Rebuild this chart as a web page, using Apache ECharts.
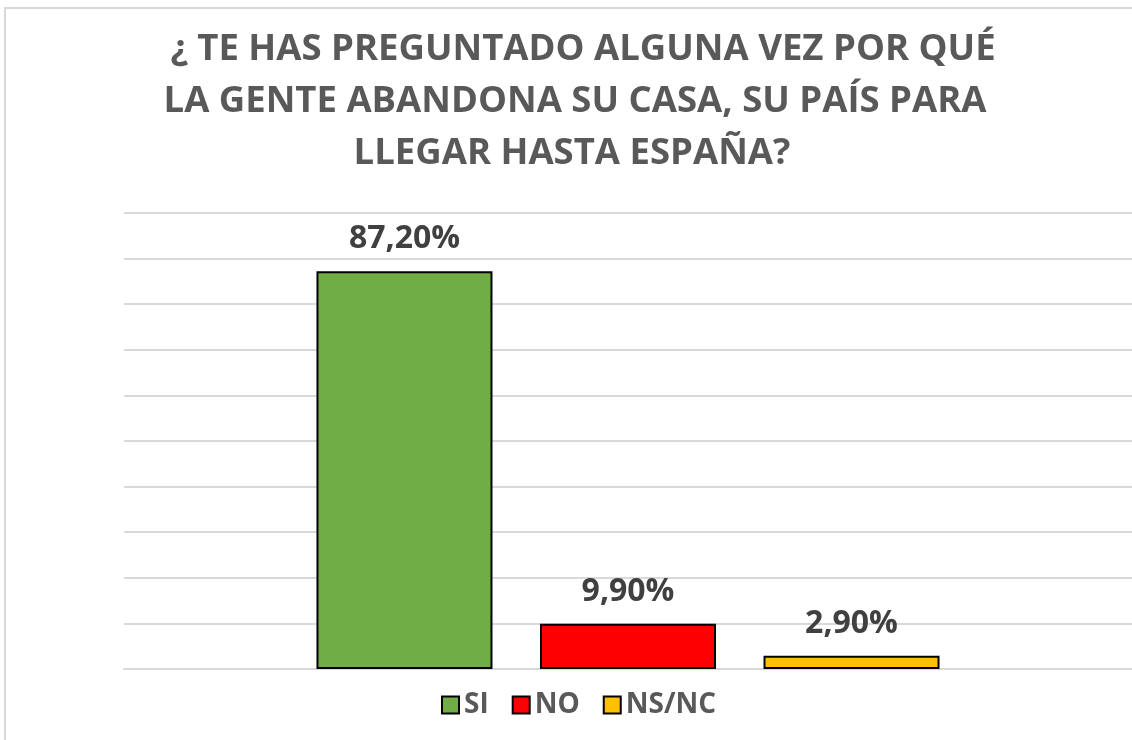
<!DOCTYPE html>
<html>
<head>
<meta charset="utf-8">
<script src="https://cdn.jsdelivr.net/npm/echarts@6/dist/echarts.min.js"></script>
<style>
  html, body { margin: 0; padding: 0; background: #fff; }
  #chart { width: 1132px; height: 740px; }
</style>
</head>
<body>
<div id="chart"></div>
<script>
var titleLines = [
    '¿ TE HAS PREGUNTADO ALGUNA VEZ POR QUÉ',
    'LA GENTE ABANDONA SU CASA, SU PAÍS PARA',
    'LLEGAR HASTA ESPAÑA?'
];
var categories = [''];
var seriesNames = ['SI', 'NO', 'NS/NC'];
var seriesColors = ['#70ad47', '#ff0000', '#ffc000'];
var valuesSI = [87.2];
var valuesNO = [9.9];
var valuesNSNC = [2.9];
var seriesValues = [valuesSI, valuesNO, valuesNSNC];

var myChart = echarts.init(document.getElementById('chart'));

// each title line is centred a little differently in the original
var lineCenters = [583, 575, 572];
var titles = [];
for (var t = 0; t < titleLines.length; t++) {
    titles.push({
        text: titleLines[t],
        left: lineCenters[t],
        textAlign: 'center',
        top: 23 + t * 52,
        padding: 0,
        textStyle: {
            color: '#595959',
            fontFamily: 'Open Sans',
            fontWeight: 'bold',
            fontSize: 36.5,
            lineHeight: 53
        }
    });
}

var series = [];
for (var i = 0; i < seriesNames.length; i++) {
    series.push({
        name: seriesNames[i],
        type: 'bar',
        data: seriesValues[i],
        barWidth: 176,
        barGap: '27%',
        itemStyle: {
            color: seriesColors[i],
            borderColor: '#000',
            borderWidth: 2
        },
        label: {
            show: true,
            position: 'top',
            distance: 16,
            color: '#404040',
            fontFamily: 'Open Sans',
            fontWeight: 'bold',
            fontSize: 32,
            formatter: function (p) {
                return p.value.toFixed(2).replace('.', ',') + '%';
            }
        }
    });
}

var option = {
    animation: false,
    backgroundColor: '#fff',
    title: titles,
    graphic: [{
        type: 'rect',
        shape: { x: 5, y: 8, width: 1140, height: 760 },
        style: { fill: null, stroke: '#d9d9d9', lineWidth: 2 },
        silent: true
    }],
    legend: {
        data: seriesNames,
        bottom: 16,
        left: 436,
        itemWidth: 17,
        itemHeight: 17,
        itemGap: 23,
        icon: 'rect',
        textStyle: {
            color: '#595959',
            fontFamily: 'Open Sans',
            fontWeight: 'bold',
            fontSize: 28
        }
    },
    grid: {
        left: 124,
        right: 0,
        top: 213,
        bottom: 71
    },
    xAxis: {
        type: 'category',
        data: categories,
        axisLine: { lineStyle: { color: '#d9d9d9', width: 2 } },
        axisTick: { show: false },
        axisLabel: { show: false }
    },
    yAxis: {
        type: 'value',
        min: 0,
        max: 100,
        interval: 10,
        axisLine: { show: false },
        axisTick: { show: false },
        axisLabel: { show: false },
        splitLine: { lineStyle: { color: '#d9d9d9', width: 2 } }
    },
    series: series
};

myChart.setOption(option);
</script>
</body>
</html>
